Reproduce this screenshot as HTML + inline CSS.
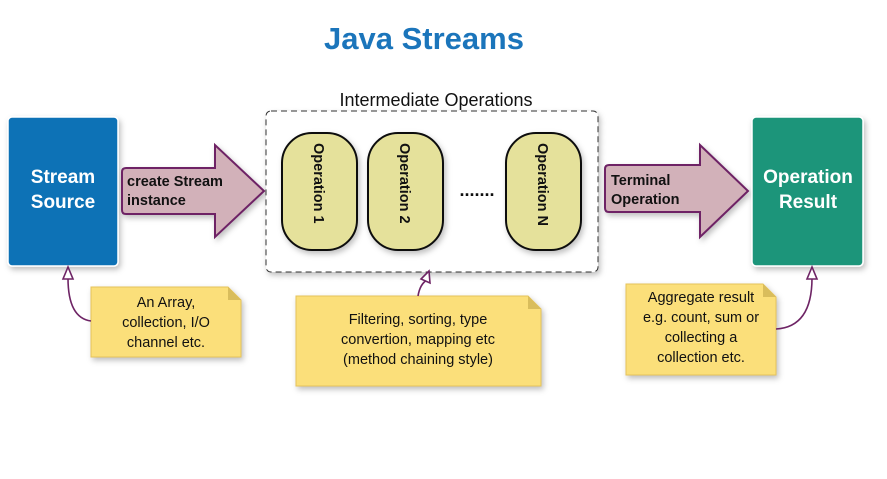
<!DOCTYPE html>
<html><head><meta charset="utf-8"><style>body{margin:0;background:#fff}</style></head><body>
<svg width="887" height="474" viewBox="0 0 887 474" xmlns="http://www.w3.org/2000/svg" font-family="Liberation Sans, sans-serif">
<defs><filter id="sh" x="-20%" y="-20%" width="150%" height="150%"><feDropShadow dx="2" dy="3" stdDeviation="3" flood-color="#000" flood-opacity="0.25"/></filter></defs>
<text x="424" y="49" text-anchor="middle" font-size="31" font-weight="bold" fill="#1b75bb">Java Streams</text>
<rect x="8" y="117" width="110" height="149" rx="4" fill="#0f72b6" stroke="#fff" stroke-width="1.5" filter="url(#sh)"/>
<text x="63" y="183" text-anchor="middle" font-size="19" font-weight="bold" fill="#fff">Stream</text>
<text x="63" y="208" text-anchor="middle" font-size="19" font-weight="bold" fill="#fff">Source</text>
<path d="M126,168 H215 V145 L264,191 L215,237 V214 H126 Q122,214 122,210 V172 Q122,168 126,168 Z" fill="#d2b1b9" stroke="#6e2465" stroke-width="2" filter="url(#sh)"/>
<text x="127" y="186" font-size="14.5" font-weight="bold" fill="#111">create Stream</text>
<text x="127" y="205" font-size="14.5" font-weight="bold" fill="#111">instance</text>
<rect x="266" y="111" width="332" height="161" rx="5" fill="#fff" stroke="#333" stroke-dasharray="6,4" filter="url(#sh)"/>
<text x="436" y="106" text-anchor="middle" font-size="18" fill="#111">Intermediate Operations</text>
<g fill="#e5e19b" stroke="#111" stroke-width="2" filter="url(#sh)">
<rect x="282" y="133" width="75" height="117" rx="30"/>
<rect x="368" y="133" width="75" height="117" rx="30"/>
<rect x="506" y="133" width="75" height="117" rx="30"/>
</g>
<g font-size="14.5" font-weight="bold" fill="#111">
<text transform="translate(314,143) rotate(90)">Operation 1</text>
<text transform="translate(400,143) rotate(90)">Operation 2</text>
<text transform="translate(538,143) rotate(90)">Operation N</text>
</g>
<text x="477" y="196" text-anchor="middle" font-size="18" font-weight="bold" fill="#111">.......</text>
<path d="M609,165 H700 V145 L748,191 L700,237 V212 H609 Q605,212 605,208 V169 Q605,165 609,165 Z" fill="#d2b1b9" stroke="#6e2465" stroke-width="2" filter="url(#sh)"/>
<text x="611" y="185" font-size="14.5" font-weight="bold" fill="#111">Terminal</text>
<text x="611" y="204" font-size="14.5" font-weight="bold" fill="#111">Operation</text>
<rect x="752" y="117" width="111" height="149" rx="4" fill="#1a957a" stroke="#fff" stroke-width="1.5" filter="url(#sh)"/>
<text x="808" y="183" text-anchor="middle" font-size="19" font-weight="bold" fill="#fff">Operation</text>
<text x="808" y="208" text-anchor="middle" font-size="19" font-weight="bold" fill="#fff">Result</text>
<g fill="#fbdf7a" stroke="#e6c35a" filter="url(#sh)">
<path d="M91,287 H228 L241,300 V357 H91 Z"/>
<path d="M296,296 H528 L541,309 V386 H296 Z"/>
<path d="M626,284 H763 L776,297 V375 H626 Z"/>
</g>
<g fill="#d9bd5c"><path d="M228,287 L241,300 H228 Z"/><path d="M528,296 L541,309 H528 Z"/><path d="M763,284 L776,297 H763 Z"/></g>
<g font-size="14.5" fill="#111" text-anchor="middle">
<text x="166" y="307">An Array,</text><text x="166" y="327">collection, I/O</text><text x="166" y="347">channel etc.</text>
<text x="418" y="324">Filtering, sorting, type</text><text x="418" y="344">convertion, mapping etc</text><text x="418" y="364">(method chaining style)</text>
<text x="701" y="302">Aggregate result</text><text x="701" y="322">e.g. count, sum or</text><text x="701" y="342">collecting a</text><text x="701" y="362">collection etc.</text>
</g>
<g fill="none" stroke="#6e2465" stroke-width="1.6">
<path d="M91,321 Q68,318 68,278"/>
<path d="M418,296 Q420,284 427,280"/>
<path d="M776,329 Q812,327 812,278"/>
</g>
<g fill="#fff" stroke="#6e2465" stroke-width="1.6">
<path d="M68,267 L63,279 H73 Z"/>
<path d="M429,271 L421,279 L430,283 Z"/>
<path d="M812,267 L807,279 H817 Z"/>
</g>
</svg>
</body></html>
